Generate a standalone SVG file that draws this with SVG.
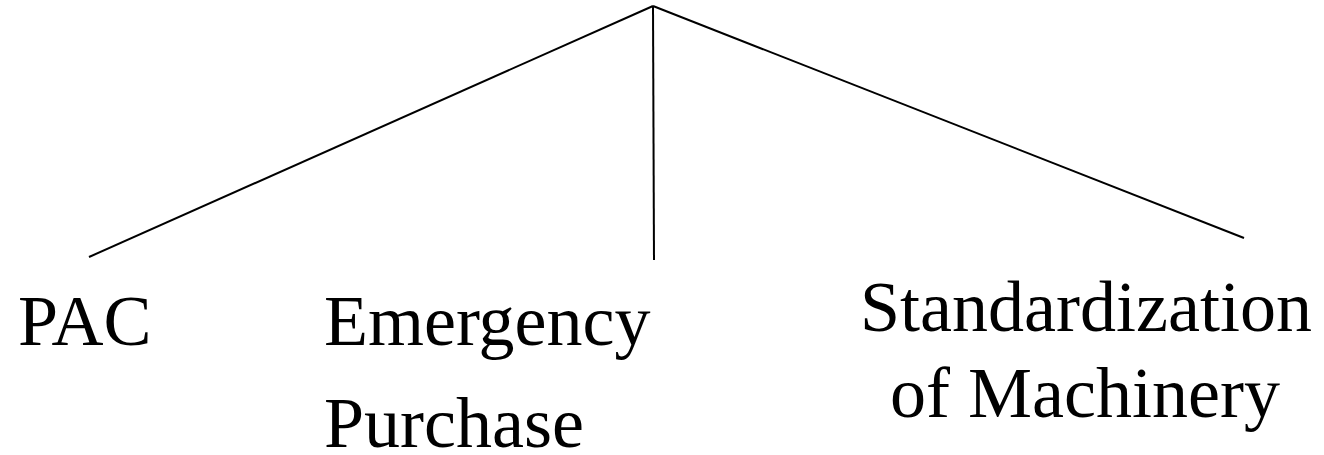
<svg xmlns="http://www.w3.org/2000/svg" width="1324" height="455" viewBox="0 0 1324 455">
<style>
.lbl{font-family:"Liberation Serif","Times New Roman",serif;font-size:72px;fill:#000}
.conn line{stroke:#000;stroke-width:2;fill:none}
</style>
<rect width="1324" height="455" fill="#fff"/>
<g id="connectors" class="conn">
<line x1="653" y1="6" x2="89" y2="257"/>
<line x1="653" y1="6" x2="654" y2="260"/>
<line x1="653" y1="6" x2="1244" y2="238"/>
</g>
<g id="node-pac"><text class="lbl" x="18" y="345">PAC</text></g>
<g id="node-emergency"><text class="lbl"><tspan x="324" y="345">Emergency</tspan><tspan x="324" y="447">Purchase</tspan></text></g>
<g id="node-standard"><text class="lbl" text-anchor="middle"><tspan x="1086" y="331">Standardization</tspan><tspan x="1085" y="417">of Machinery</tspan></text></g>
</svg>
